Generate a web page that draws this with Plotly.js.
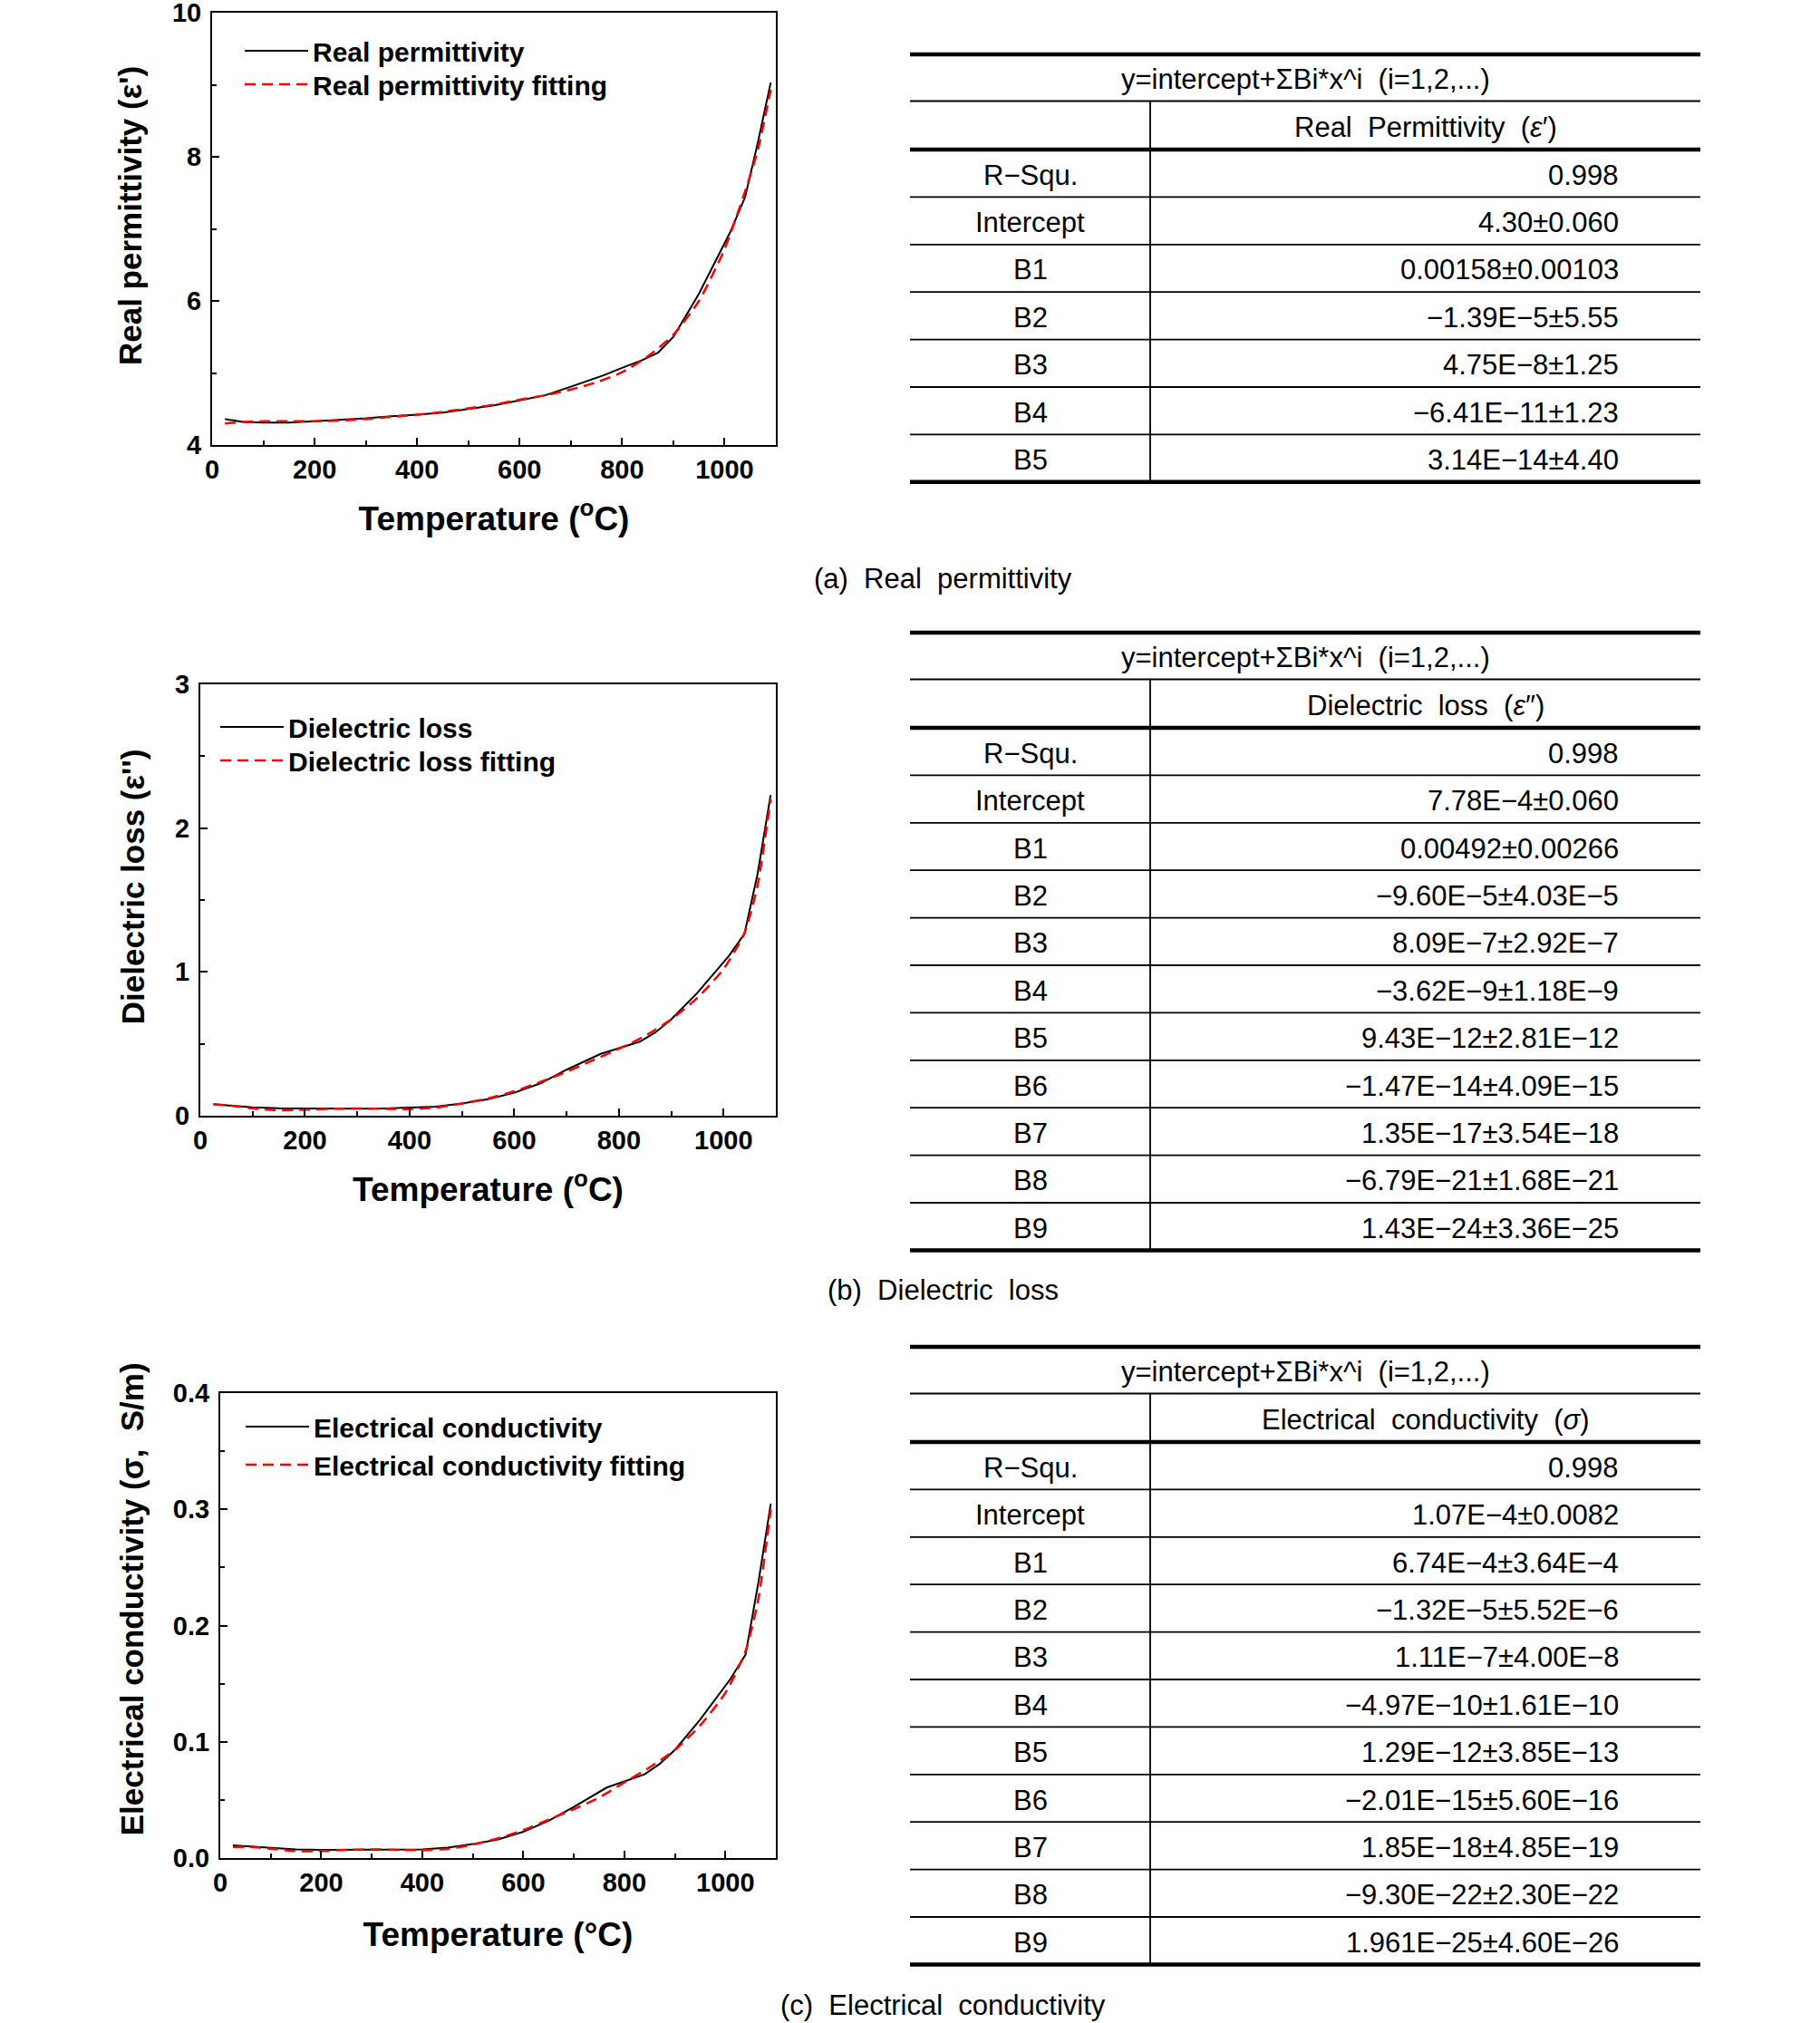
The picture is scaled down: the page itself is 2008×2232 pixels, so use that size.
<!DOCTYPE html>
<html>
<head>
<meta charset="utf-8">
<script src="https://cdn.plot.ly/plotly-3.0.1.min.js"></script>
<style>html,body{margin:0;padding:0;background:#fff;}#chart{width:2008px;height:2232px;}</style>
</head>
<body>
<div id="chart"></div>
<script>
// ---------------- DATA ----------------
// measured curves (temperature, °C)
const tempMeasured = [25, 60, 100, 150, 200, 250, 300, 350, 400, 450, 500, 550, 600, 650, 700, 765, 800, 840, 870, 900, 950, 1010, 1040, 1065, 1090];
const realPermittivity = [4.36, 4.32, 4.31, 4.31, 4.33, 4.35, 4.37, 4.40, 4.42, 4.45, 4.50, 4.55, 4.62, 4.69, 4.81, 4.97, 5.07, 5.18, 5.28, 5.50, 6.10, 6.94, 7.44, 8.20, 9.03];
const dielectricLoss = [0.08, 0.07, 0.058, 0.052, 0.050, 0.049, 0.049, 0.050, 0.055, 0.063, 0.085, 0.115, 0.160, 0.225, 0.320, 0.430, 0.470, 0.515, 0.580, 0.670, 0.855, 1.110, 1.265, 1.680, 2.230];
const conductivity = [0.011, 0.010, 0.0085, 0.0075, 0.007, 0.007, 0.007, 0.007, 0.0075, 0.009, 0.012, 0.016, 0.0226, 0.032, 0.044, 0.0606, 0.066, 0.072, 0.081, 0.093, 0.119, 0.154, 0.175, 0.236, 0.305];

// fitting curves
const tempFit = [25, 60, 100, 150, 200, 250, 300, 350, 400, 450, 500, 550, 600, 650, 700, 750, 800, 850, 900, 950, 1000, 1040, 1065, 1090];
const realPermittivityFit = [4.30, 4.32, 4.33, 4.33, 4.33, 4.34, 4.36, 4.39, 4.42, 4.46, 4.51, 4.56, 4.63, 4.69, 4.77, 4.87, 5.01, 5.23, 5.53, 6.00, 6.72, 7.52, 8.10, 8.93];
const dielectricLossFit = [0.078, 0.07, 0.05, 0.038, 0.042, 0.048, 0.050, 0.048, 0.046, 0.056, 0.085, 0.120, 0.170, 0.235, 0.305, 0.385, 0.465, 0.555, 0.670, 0.820, 1.020, 1.270, 1.600, 2.200];
const conductivityFit = [0.0095, 0.0095, 0.008, 0.006, 0.006, 0.007, 0.0075, 0.007, 0.0068, 0.0078, 0.0115, 0.017, 0.024, 0.033, 0.042, 0.052, 0.065, 0.078, 0.093, 0.114, 0.142, 0.178, 0.222, 0.300];

// legend names
const seriesNamesA = ["Real permittivity", "Real permittivity fitting"];
const seriesNamesB = ["Dielectric loss", "Dielectric loss fitting"];
const seriesNamesC = ["Electrical conductivity", "Electrical conductivity fitting"];

// axis titles
const xTitleAB = "Temperature (<sup>o</sup>C)";
const xTitleC = "Temperature (°C)";
const yTitleA = "Real permittivity (ε')";
const yTitleB = "Dielectric loss (ε'')";
const yTitleC = "Electrical conductivity (σ,\u00a0 S/m)";

// tables
const tableFormula = "y=intercept+ΣBi*x^i  (i=1,2,...)";
const tableHeaderA = "Real  Permittivity  (<i>ε</i>′)";
const tableHeaderB = "Dielectric  loss  (<i>ε</i>″)";
const tableHeaderC = "Electrical  conductivity  (<i>σ</i>)";
const rowLabelsA = ["R−Squ.", "Intercept", "B1", "B2", "B3", "B4", "B5"];
const rowValuesA = ["0.998", "4.30±0.060", "0.00158±0.00103", "−1.39E−5±5.55", "4.75E−8±1.25", "−6.41E−11±1.23", "3.14E−14±4.40"];
const rowLabelsB = ["R−Squ.", "Intercept", "B1", "B2", "B3", "B4", "B5", "B6", "B7", "B8", "B9"];
const rowValuesB = ["0.998", "7.78E−4±0.060", "0.00492±0.00266", "−9.60E−5±4.03E−5", "8.09E−7±2.92E−7", "−3.62E−9±1.18E−9", "9.43E−12±2.81E−12", "−1.47E−14±4.09E−15", "1.35E−17±3.54E−18", "−6.79E−21±1.68E−21", "1.43E−24±3.36E−25"];
const rowLabelsC = ["R−Squ.", "Intercept", "B1", "B2", "B3", "B4", "B5", "B6", "B7", "B8", "B9"];
const rowValuesC = ["0.998", "1.07E−4±0.0082", "6.74E−4±3.64E−4", "−1.32E−5±5.52E−6", "1.11E−7±4.00E−8", "−4.97E−10±1.61E−10", "1.29E−12±3.85E−13", "−2.01E−15±5.60E−16", "1.85E−18±4.85E−19", "−9.30E−22±2.30E−22", "1.961E−25±4.60E−26"];

// captions
const captions = ["(a)  Real  permittivity", "(b)  Dielectric  loss", "(c)  Electrical  conductivity"];

// ---------------- LAYOUT ----------------
const W = 2008, H = 2232;
const fx = x => x / W;
const fy = y => 1 - y / H;
const FONT = "Liberation Sans, Arial, sans-serif";
const pad = n => "\u200b" + "\u00a0".repeat(n);

const panels = [
  {xa: 'x', ya: 'y', left: 234, right: 856, top: 14, bottom: 491, yr: [4, 10], ydt: 2, yminor: 1, yfmt: '', xt: xTitleAB, xStand: 26, yt: yTitleA, ytPad: 3, yStand: 23,
   meas: realPermittivity, fit: realPermittivityFit, names: seriesNamesA, legs: ['legend', 'legend2'], legX: 265, legY: [30, 67]},
  {xa: 'x2', ya: 'y2', left: 221, right: 856, top: 755, bottom: 1231, yr: [0, 3], ydt: 1, yminor: 0.5, yfmt: '', xt: xTitleAB, xStand: 26, yt: yTitleB, ytPad: 3, yStand: 23,
   meas: dielectricLoss, fit: dielectricLossFit, names: seriesNamesB, legs: ['legend3', 'legend4'], legX: 238, legY: [776, 813]},
  {xa: 'x3', ya: 'y3', left: 243, right: 856, top: 1537, bottom: 2050, yr: [0, 0.4], ydt: 0.1, yminor: 0.05, yfmt: '.1f', xt: xTitleC, xStand: 29, yt: yTitleC, ytPad: 6, yStand: 22,
   meas: conductivity, fit: conductivityFit, names: seriesNamesC, legs: ['legend5', 'legend6'], legX: 266, legY: [1548, 1590]}
];

const traces = [];
const layout = {
  width: W, height: H,
  margin: {l: 0, r: 0, t: 0, b: 0, autoexpand: false},
  paper_bgcolor: '#ffffff', plot_bgcolor: '#ffffff',
  showlegend: true,
  font: {family: FONT, color: '#000'},
  shapes: [], annotations: []
};

panels.forEach((p, i) => {
  traces.push({
    x: tempMeasured, y: p.meas, type: 'scatter', mode: 'lines', name: p.names[0],
    xaxis: p.xa, yaxis: p.ya, legend: p.legs[0],
    line: {color: '#000000', width: 2}
  });
  traces.push({
    x: tempFit, y: p.fit, type: 'scatter', mode: 'lines', name: p.names[1],
    xaxis: p.xa, yaxis: p.ya, legend: p.legs[1],
    line: {color: '#ff0000', width: 2.5, dash: '12px,7px', shape: 'spline', smoothing: 0.6}
  });
  const xk = i === 0 ? 'xaxis' : 'xaxis' + (i + 1);
  const yk = i === 0 ? 'yaxis' : 'yaxis' + (i + 1);
  layout[xk] = {
    domain: [fx(p.left), fx(p.right)], anchor: p.ya, range: [0, 1100],
    tick0: 0, dtick: 200, ticks: 'inside', ticklen: 8, tickwidth: 2, tickcolor: '#000',
    minor: {dtick: 100, ticks: 'inside', ticklen: 5, tickwidth: 2, tickcolor: '#000'},
    showline: true, mirror: true, linewidth: 2, linecolor: '#000',
    showgrid: false, zeroline: false, ticklabeloverflow: 'allow',
    tickfont: {family: FONT, size: 29, weight: 'bold', color: '#000'},
    automargin: true,
    title: {text: p.xt, font: {family: FONT, size: 37, weight: 'bold', color: '#000'}, standoff: p.xStand}
  };
  layout[yk] = {
    domain: [fy(p.bottom), fy(p.top)], anchor: p.xa, range: p.yr,
    tick0: 0, dtick: p.ydt, tickformat: p.yfmt, ticks: 'inside', ticklen: 8, tickwidth: 2, tickcolor: '#000',
    minor: {dtick: p.yminor, ticks: 'inside', ticklen: 5, tickwidth: 2, tickcolor: '#000'},
    showline: true, mirror: true, linewidth: 2, linecolor: '#000',
    showgrid: false, zeroline: false, ticklabelstandoff: 4, ticklabeloverflow: 'allow',
    tickfont: {family: FONT, size: 29, weight: 'bold', color: '#000'},
    automargin: true,
    title: {text: pad(p.ytPad) + p.yt, font: {family: FONT, size: 35, weight: 'bold', color: '#000'}, standoff: p.yStand}
  };
  p.legs.forEach((lg, k) => {
    layout[lg] = {
      x: fx(p.legX), y: fy(p.legY[k]), xanchor: 'left', yanchor: 'top',
      bgcolor: 'rgba(0,0,0,0)', borderwidth: 0, itemwidth: 70,
      font: {family: FONT, size: 30, weight: 'bold', color: '#000'},
      tracegroupgap: 0
    };
  });
});

// ---------------- TABLES ----------------
const tblLeft = 1004, tblDiv = 1269, tblRight = 1876;
const rowH = 52.4;
const tables = [
  {top: 60, header: tableHeaderA, labels: rowLabelsA, values: rowValuesA},
  {top: 698, header: tableHeaderB, labels: rowLabelsB, values: rowValuesB},
  {top: 1486, header: tableHeaderC, labels: rowLabelsC, values: rowValuesC}
];
const hline = (y, w) => ({type: 'line', xref: 'paper', yref: 'paper', x0: fx(tblLeft), x1: fx(tblRight), y0: fy(y), y1: fy(y), line: {color: '#000', width: w}});
const txt = (x, y, text, anchor) => ({xref: 'paper', yref: 'paper', x: fx(x), y: fy(y), text: text, showarrow: false,
  xanchor: anchor, yanchor: 'middle', font: {family: FONT, size: 31, color: '#000'}});

tables.forEach(t => {
  const thin = t.top + 51.5;
  const thick = t.top + 105;
  const bottom = thick + rowH * t.labels.length;
  layout.shapes.push(hline(t.top, 4.5));
  layout.shapes.push(hline(thin, 1.8));
  layout.shapes.push(hline(thick, 4.5));
  for (let r = 1; r < t.labels.length; r++) layout.shapes.push(hline(thick + rowH * r, 1.8));
  layout.shapes.push(hline(bottom, 4.5));
  layout.shapes.push({type: 'line', xref: 'paper', yref: 'paper', x0: fx(tblDiv), x1: fx(tblDiv), y0: fy(thin), y1: fy(bottom), line: {color: '#000', width: 1.8}});
  layout.annotations.push(txt((tblLeft + tblRight) / 2, (t.top + thin) / 2 + 2, tableFormula, 'center'));
  layout.annotations.push(txt((tblDiv + tblRight) / 2, (thin + thick) / 2 + 2, t.header, 'center'));
  t.labels.forEach((lab, r) => {
    const yc = thick + rowH * (r + 0.5) + 2;
    layout.annotations.push(txt((tblLeft + tblDiv) / 2, yc, lab, 'center'));
    layout.annotations.push(txt(1788, yc, t.values[r], 'right'));
  });
});

// captions
[638, 1423, 2212].forEach((y, i) => {
  layout.annotations.push({xref: 'paper', yref: 'paper', x: fx(1040), y: fy(y), text: captions[i], showarrow: false,
    xanchor: 'center', yanchor: 'middle', font: {family: FONT, size: 31, color: '#000'}});
});

Plotly.newPlot('chart', traces, layout, {staticPlot: true, displayModeBar: false});
</script>
</body>
</html>
